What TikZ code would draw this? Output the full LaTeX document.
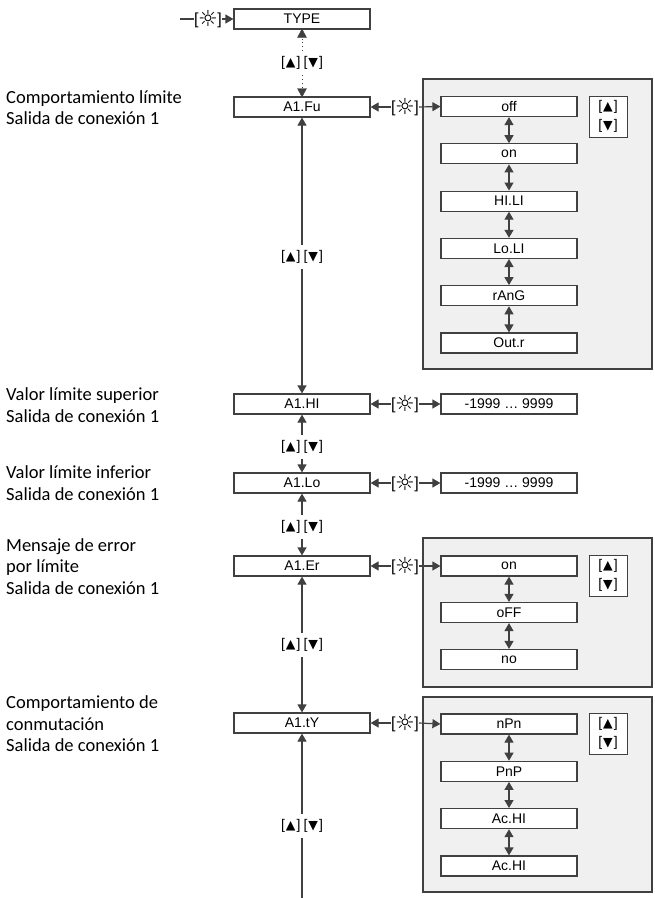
\documentclass[tikz,border=0pt]{standalone}
\usepackage{fontspec}
\setmainfont{Liberation Sans}
\newfontfamily\calfont{Carlito}
\newfontfamily\symfont{DejaVu Sans}
\usetikzlibrary{arrows.meta,positioning}
\definecolor{dk}{HTML}{404040}
\definecolor{pgray}{HTML}{F0F0F0}
\tikzset{
  mainbox/.style={draw=dk, line width=1.2pt, fill=white, minimum width=136pt, minimum height=20pt, inner sep=0pt, font=\fontsize{14}{16}\selectfont},
  optbox/.style={mainbox},
  panel/.style={draw=dk, line width=1.3pt, fill=pgray},
  keybox/.style={draw=dk, line width=1pt, fill=white, minimum width=38pt, minimum height=41pt, inner sep=0pt, align=center, font=\fontsize{14}{19}\selectfont},
  updn/.style={inner xsep=1pt, inner ysep=0pt, minimum height=24pt, font=\fontsize{14}{16}\selectfont},
  sun/.style={inner sep=0pt, minimum height=16pt, font=\fontsize{16}{18}\selectfont},
  side/.style={anchor=west, align=left, inner sep=0pt, font=\calfont\fontsize{18.5}{21.5}\selectfont},
  conn/.style={draw=dk, line width=1.2pt, -{Triangle[length=8pt,width=9pt]}},
  dconn/.style={draw=dk, line width=1.2pt, {Triangle[length=8pt,width=9pt]}-{Triangle[length=8pt,width=9pt]}},
  plain/.style={draw=dk, line width=1.2pt},
  dots/.style={draw=dk, line width=0.8pt, dash pattern=on 0.8pt off 3pt}
}
\newcommand{\TRI}[1]{{\symfont\fontsize{12.5}{14}\selectfont\raisebox{0.3pt}{#1}}}
\newcommand{\KU}{[\kern1pt\TRI{▲}\kern1pt]}
\newcommand{\KD}{[\kern1pt\TRI{▼}\kern1pt]}
\newcommand{\UD}{\KU\kern3pt\KD}
\newcommand{\SUN}{[\kern-0.5pt{\symfont\fontsize{22}{22}\selectfont\raisebox{-2pt}{☼}}\kern-0.5pt]}
\begin{document}
\begin{tikzpicture}[x=1pt,y=-1pt]
\useasboundingbox (0,0) rectangle (655,898);
% panels
\draw[panel] (423,79) rectangle (652,369);
\draw[panel] (423,538) rectangle (652,687);
\draw[panel] (423,697) rectangle (652,892);
% side labels
\node[side] (t1) at (6,107.5) {Comportamiento límite\\Salida de conexión 1};
\node[side] (t2) at (6,405) {Valor límite superior\\Salida de conexión 1};
\node[side] (t3) at (6,483) {Valor límite inferior\\Salida de conexión 1};
\node[side] (t4) at (6,566.5) {Mensaje de error\\por límite\\Salida de conexión 1};
\node[side] (t5) at (6,724) {Comportamiento de\\conmutación\\Salida de conexión 1};
% main boxes
\node[mainbox] (type) at (302,19) {TYPE};
\node[mainbox] (fu) at (302,107) {A1.Fu};
\node[mainbox] (hi) at (302,404) {A1.HI};
\node[mainbox] (lo) at (302,483) {A1.Lo};
\node[mainbox] (er) at (302,566) {A1.Er};
\node[mainbox] (ty) at (302,723) {A1.tY};
% entry to TYPE
\coordinate (start) at (180,19);
\node[sun] (s0) at (208,19) {\SUN};
\draw[plain] (start) -- (s0.west);
\draw[conn] (s0.east) -- (type.west);
% vertical labels
\node[updn] (u1) at (302,63) {\UD};
\node[updn] (u2) at (302,257) {\UD};
\node[updn] (u3) at (302,447) {\UD};
\node[updn] (u4) at (302,527) {\UD};
\node[updn] (u5) at (302,645) {\UD};
\node[updn] (u6) at (302,826) {\UD};
\coordinate (bot) at (302,898);
\draw[dots] (u1.north) -- (302,38);
\draw[dots] (u1.south) -- (302,88);
\draw[draw=dk, fill=dk] (302,29) -- (297.5,37.5) -- (306.5,37.5) -- cycle;
\draw[draw=dk, fill=dk] (302,97) -- (297.5,88.5) -- (306.5,88.5) -- cycle;
\draw[conn] (u2.north) -- (fu.south);
\draw[conn] (u2.south) -- (hi.north);
\draw[conn] (u3.north) -- (hi.south);
\draw[conn] (u3.south) -- (lo.north);
\draw[conn] (u4.north) -- (lo.south);
\draw[conn] (u4.south) -- (er.north);
\draw[conn] (u5.north) -- (er.south);
\draw[conn] (u5.south) -- (ty.north);
\draw[conn] (u6.north) -- (ty.south);
\draw[plain] (u6.south) -- (bot);
% A1.Fu options
\node[optbox] (o1) at (509,106.5) {off};
\node[optbox] (o2) at (509,153.8) {on};
\node[optbox] (o3) at (509,201.1) {HI.LI};
\node[optbox] (o4) at (509,248.4) {Lo.LI};
\node[optbox] (o5) at (509,295.7) {rAnG};
\node[optbox] (o6) at (509,343) {Out.r};
\foreach \a/\b in {o1/o2,o2/o3,o3/o4,o4/o5,o5/o6} \draw[dconn] (\a.south) -- (\b.north);
\node[keybox] (k1) at (608,116.5) {\KU\\\KD};
\node[sun] (s1) at (405,107) {\SUN};
\draw[conn] (s1.west) -- (fu.east);
\draw[conn] (s1.east) -- (o1.west);
% A1.HI
\node[optbox] (h1) at (509,404) {-1999 … 9999};
\node[sun] (s2) at (405,404) {\SUN};
\draw[conn] (s2.west) -- (hi.east);
\draw[conn] (s2.east) -- (h1.west);
% A1.Lo
\node[optbox] (l1) at (509,483) {-1999 … 9999};
\node[sun] (s3) at (405,483) {\SUN};
\draw[conn] (s3.west) -- (lo.east);
\draw[conn] (s3.east) -- (l1.west);
% A1.Er
\node[optbox] (e1) at (509,566) {on};
\node[optbox] (e2) at (509,612.5) {oFF};
\node[optbox] (e3) at (509,659.5) {no};
\foreach \a/\b in {e1/e2,e2/e3} \draw[dconn] (\a.south) -- (\b.north);
\node[keybox] (k2) at (608,575.5) {\KU\\\KD};
\node[sun] (s4) at (405,566) {\SUN};
\draw[conn] (s4.west) -- (er.east);
\draw[conn] (s4.east) -- (e1.west);
% A1.tY
\node[optbox] (y1) at (509,724) {nPn};
\node[optbox] (y2) at (509,771.3) {PnP};
\node[optbox] (y3) at (509,818.6) {Ac.HI};
\node[optbox] (y4) at (509,866) {Ac.HI};
\foreach \a/\b in {y1/y2,y2/y3,y3/y4} \draw[dconn] (\a.south) -- (\b.north);
\node[keybox] (k3) at (608,733.5) {\KU\\\KD};
\node[sun] (s5) at (405,723) {\SUN};
\draw[conn] (s5.west) -- (ty.east);
\draw[conn] (s5.east) -- (y1.west);
\end{tikzpicture}
\end{document}
